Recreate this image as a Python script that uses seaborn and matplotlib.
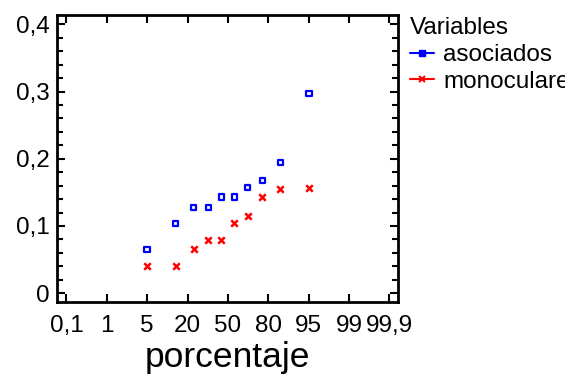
import numpy as np
import pandas as pd
import matplotlib
matplotlib.use("Agg")
import matplotlib.pyplot as plt
from matplotlib.lines import Line2D
from matplotlib.ticker import MultipleLocator, FixedLocator, FixedFormatter
import seaborn as sns

# normal scores (plotting positions) of the 10 ranked observations
normal_score = [-1.55, -1.0, -0.655, -0.375, -0.125, 0.125, 0.375, 0.655, 1.0, 1.55]
asociados = [0.065, 0.104, 0.128, 0.128, 0.143, 0.143, 0.157, 0.168, 0.194, 0.297]
monoculares = [0.040, 0.040, 0.065, 0.079, 0.079, 0.104, 0.115, 0.143, 0.155, 0.157]
series_names = ["asociados", "monoculares"]
x_tick_labels = ["0,1", "1", "5", "20", "50", "80", "95", "99", "99,9"]
y_tick_values = [0, 0.1, 0.2, 0.3, 0.4]
y_tick_labels = ["0", "0,1", "0,2", "0,3", "0,4"]

df = pd.DataFrame({
    "z": normal_score * 2,
    "valor": asociados + monoculares,
    "Variables": [series_names[0]] * len(asociados) + [series_names[1]] * len(monoculares),
})

sns.set_style("ticks")
plt.rcParams["font.family"] = ["Liberation Sans", "DejaVu Sans"]
plt.rcParams["text.color"] = "black"
plt.rcParams["axes.labelcolor"] = "black"
plt.rcParams["xtick.color"] = "black"
plt.rcParams["ytick.color"] = "black"

fig = plt.figure(figsize=(5.65, 3.83), dpi=100)
ax = fig.add_axes([0.100, 0.211, 0.605, 0.750])

blue = "#0000ff"
red = "#ff0000"

sns.scatterplot(data=df[df["Variables"] == series_names[0]], x="z", y="valor",
                marker="s", s=14, facecolor="none", edgecolor=blue, linewidth=1.6,
                ax=ax, legend=False)
sns.scatterplot(data=df[df["Variables"] == series_names[1]], x="z", y="valor",
                marker="x", s=22, color=red, linewidth=1.8,
                ax=ax, legend=False)

ax.set_xlim(-3.28, 3.26)
ax.set_ylim(-0.0134, 0.414)

xt = np.linspace(-3.09, 3.09, len(x_tick_labels))
ax.xaxis.set_major_locator(FixedLocator(xt))
ax.xaxis.set_major_formatter(FixedFormatter(x_tick_labels))
ax.yaxis.set_major_locator(FixedLocator(y_tick_values))
ax.yaxis.set_major_formatter(FixedFormatter(y_tick_labels))
ax.yaxis.set_minor_locator(MultipleLocator(0.02))

ax.tick_params(axis="both", which="both", direction="in", top=True, right=True,
               color="black", labelcolor="black", width=1.5)
ax.tick_params(axis="both", which="major", length=6, labelsize=17.5)
ax.tick_params(axis="y", which="minor", length=4)
ax.tick_params(axis="x", which="major", pad=9)
ax.tick_params(axis="y", which="major", pad=5)
for sp in ax.spines.values():
    sp.set_linewidth(2)
    sp.set_color("black")

ax.set_xlabel("porcentaje", fontsize=25.5, labelpad=3, color="black")
ax.set_ylabel("")

handles = [
    Line2D([0], [0], color=blue, lw=1.5, marker="s", markersize=4,
           markerfacecolor=blue, markeredgecolor=blue),
    Line2D([0], [0], color=red, lw=1.5, marker="x", markersize=5,
           markeredgecolor=red, markeredgewidth=1.5),
]
leg = fig.legend(handles, series_names, title="Variables", loc="upper left",
                 bbox_to_anchor=(0.726, 0.955), frameon=False, fontsize=17.5,
                 title_fontsize=17.5, handlelength=1.0, handletextpad=0.35,
                 labelspacing=0.2, borderaxespad=0, borderpad=0,
                 alignment="left")
for t in leg.get_texts():
    t.set_color("black")
leg.get_title().set_color("black")

fig.savefig("out.png", dpi=100)
